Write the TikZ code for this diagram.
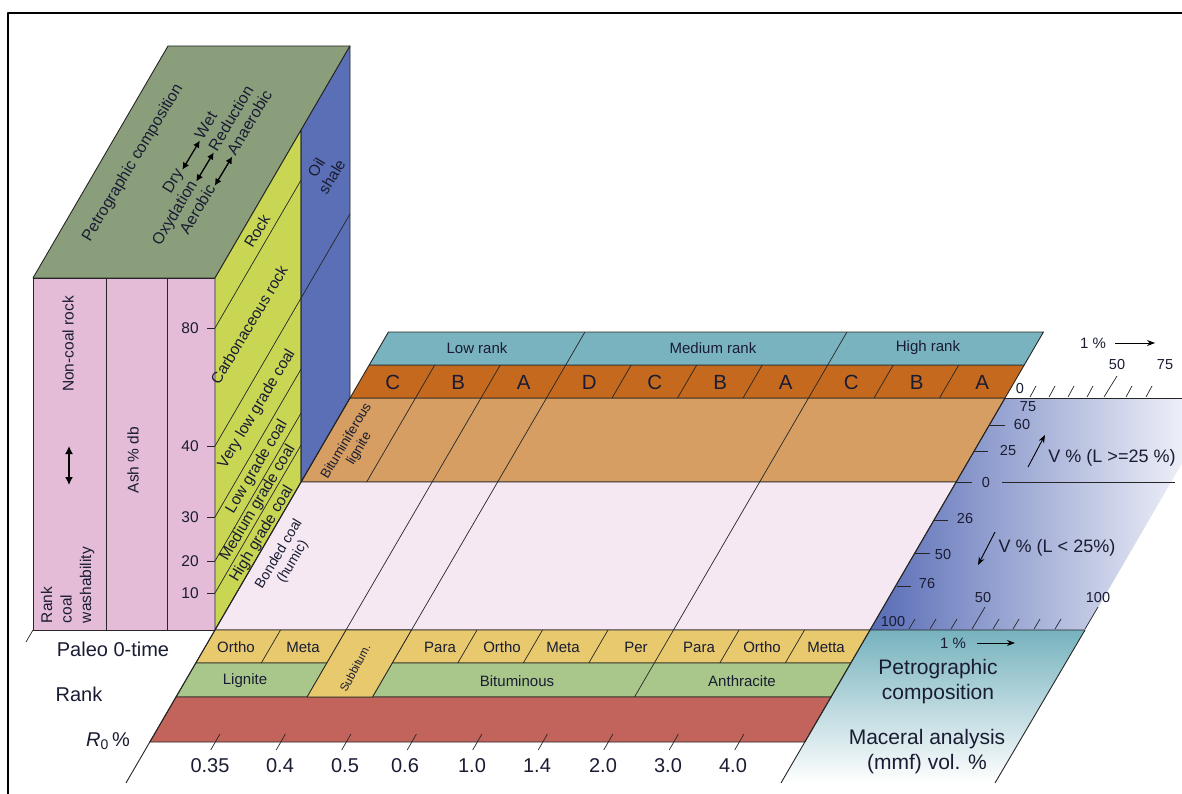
\documentclass[tikz,border=0pt]{standalone}
\usepackage{fontspec}
\setmainfont{Liberation Sans}
\usetikzlibrary{arrows.meta,calc}
\definecolor{gtop}{RGB}{139,158,124}
\definecolor{bface}{RGB}{90,111,182}
\definecolor{yface}{RGB}{201,214,84}
\definecolor{pface}{RGB}{228,188,215}
\definecolor{pfloor}{RGB}{245,232,243}
\definecolor{ofloor}{RGB}{214,158,98}
\definecolor{ostrip}{RGB}{196,105,29}
\definecolor{tstrip}{RGB}{121,179,191}
\definecolor{rowy}{RGB}{232,201,110}
\definecolor{rowg}{RGB}{169,199,138}
\definecolor{rowr}{RGB}{195,100,92}
\definecolor{bgrad}{RGB}{88,108,182}
\definecolor{tgrad}{RGB}{118,178,190}
\definecolor{txt}{RGB}{25,28,50}
\newcommand{\fsz}[2]{\fontsize{#1}{#2}\selectfont}
\tikzset{
  edge/.style={draw=black!85, line width=0.9pt},
  thinl/.style={draw=black!85, line width=0.7pt},
  rot/.style={rotate=59},
  dbl/.style={{Latex[length=7pt,width=7pt]}-{Latex[length=7pt,width=7pt]}, line width=1.3pt, draw=black},
  arr/.style={-{Stealth[length=8pt,width=6pt]}, line width=0.9pt, draw=black},
}
\begin{document}
\begin{tikzpicture}[x=1pt,y=-1pt,line join=round,
  every node/.style={inner sep=0pt, outer sep=0pt, text=txt}]
\useasboundingbox (0,0) rectangle (1182,794);
\foreach \yy in {332,365,398,482,630,663,697,742,783}{
  \foreach \k in {0,...,10}{
    \coordinate (g\yy-\k) at ({215+65.5*\k+0.582*(630-\yy)},\yy);
  }
}
% frame
\draw[line width=1.6pt] (8,794) -- (8,13) -- (1182,13);
% box
\filldraw[fill=gtop, edge] (33,278) -- (215,278) -- (350,46) -- (168,46) -- cycle;
\filldraw[fill=pface, edge] (33,278) rectangle (215,630);
\draw[edge] (106,278) -- (106,630) (167,278) -- (167,630);
\filldraw[fill=yface, edge] (215,630) -- (215,278) -- (301.1,130) -- (301.1,482) -- cycle;
\filldraw[fill=bface, edge] (301.1,130) -- (350,46) -- (350,398) -- (301.1,482) -- cycle;
\foreach \yy in {328,446,517,561,593} \draw[thinl] (215,\yy) -- (301.1,{\yy-148});
\draw[thinl] (301.1,298) -- (350,214);
% blue scale region
\begin{scope}
\clip (0,0) rectangle (1182,794);
\shade[left color=bgrad, right color=white] (g398-10) -- (1220,398) -- (1085,630) -- (g630-10) -- cycle;
\end{scope}
% teal bottom region
\shade[top color=tgrad, bottom color=white] (g630-10) -- (1085,630) -- (995,783) -- (g783-10) -- cycle;
\draw[edge] (g630-10) -- (1085,630) -- (995,783);
% floor
\filldraw[fill=ofloor, edge] (g398-0) -- (g398-10) -- (g482-10) -- (g482-0) -- cycle;
\filldraw[fill=pfloor, edge] (g482-0) -- (g482-10) -- (g630-10) -- (g630-0) -- cycle;
% back strips
\filldraw[fill=ostrip, edge] (g398-0) -- (g398-10) -- (g365-10) -- (g365-0) -- cycle;
\filldraw[fill=tstrip, edge] (g365-0) -- (g365-10) -- (g332-10) -- (g332-0) -- cycle;
\foreach \k in {1,...,9} \draw[thinl] (g398-\k) -- (g365-\k);
\draw[thinl] (g365-3) -- (g332-3) (g365-7) -- (g332-7);
% front rows
\filldraw[fill=rowy, edge] (g630-0) -- (g630-10) -- (g663-10) -- (g663-0) -- cycle;
\filldraw[fill=rowg, edge] (g663-0) -- (g663-10) -- (g697-10) -- (g697-0) -- cycle;
\filldraw[fill=rowr, edge] (g697-0) -- (g697-10) -- (g742-10) -- (g742-0) -- cycle;
\filldraw[fill=rowy, edge] (g630-2) -- (g630-3) -- (g697-3) -- (g697-2) -- cycle;
% grid lines
\draw[thinl] (g398-1) -- (g482-1);
\draw[thinl] (g398-2) -- (g630-2) (g398-3) -- (g630-3) (g398-7) -- (g697-7);
\foreach \k in {1,4,5,6,8,9} \draw[thinl] (g630-\k) -- (g663-\k);
\draw[edge] (g398-0) -- (g783-0);
\draw[edge] (g398-10) -- (g783-10);
\draw[thinl] (33,630) -- (26,642);
% scale lines
\draw[edge] (g398-10) -- (1182,398);
\draw[edge] (g482-10) -- (972,482) (1002,482) -- (1175,482);
\foreach \x in {1030,1049,1068,1087,1126,1146} \draw[thinl] (\x,397) -- ({\x+6},386);
\draw[thinl] (1104,397) -- (1117,376);
\foreach \x in {909,930,951,993,1013,1034,1055} \draw[thinl] (\x,629) -- ({\x+6},619);
\draw[thinl] (972,629) -- (985,607);
\draw[thinl] (1085,629) -- (1098,607);
\foreach \a/\b/\yy in {989/1005/425, 973/988/451, 933/948/520, 915/930/553, 897/911/586}
  \draw[thinl] (\a,\yy) -- (\b,\yy);
% red row ticks
\foreach \k in {1,...,9} \draw[thinl] ($(g742-\k)+(4.6,-8)$) -- ($(g742-\k)+(-4.6,8)$);
% ---------------- texts ----------------
\node[rotate=90, font=\fsz{15.5}{18}] (ncr) at (68,344) {Non-coal rock};
\node[rotate=90, font=\fsz{15.5}{18}] (ash) at (133,460) {Ash \% db};
\node[rotate=90, anchor=north west, align=left, font=\fsz{15.5}{19.5}] (rcw) at (41,623) {Rank\\coal\\washability};
\draw[{Latex[length=8pt,width=8pt]}-{Latex[length=8pt,width=8pt]}, line width=1.4pt] (69,446) -- (69,485);
\foreach \v/\yy in {80/328,40/446,30/517,20/561,10/593}{
  \node[font=\fsz{15.5}{18}] (n\v) at (190,\yy) {\v};
  \draw[edge] (207,\yy) -- (215,\yy);
}
% yellow face
\node[rot, font=\fsz{15.5}{18}] (rock) at (257,231) {Rock};
\node[rot, font=\fsz{15.5}{18}] (carb) at (249,325) {Carbonaceous rock};
\node[rot, font=\fsz{15.5}{18}] (vlg) at (257,409) {Very low grade coal};
\node[rot, font=\fsz{15.5}{18}] (lg) at (257,467) {Low grade coal};
\node[rot, font=\fsz{15.5}{18}] (mg) at (258,503) {Medium grade coal};
\node[rot, font=\fsz{15.5}{18}] (hg) at (262,534) {High grade coal};
% green top
\node[rot, font=\fsz{16}{18}] (petro) at (133,163) {Petrographic composition};
\begin{scope}[shift={(205,167)}, rotate=59]
\foreach \i/\dx/\dy/\La/\Lb in {1/3/-18/Dry/Wet, 2/0/0/Oxydation/Reduction, 3/6/18/Aerobic/Anaerobic}{
  \node[rotate=59, anchor=mid east, font=\fsz{16}{18}] (la\i) at ({\dx-19},\dy) {\La};
  \node[rotate=59, anchor=mid west, font=\fsz{16}{18}] (lb\i) at ({\dx+19},\dy) {\Lb};
  \draw[dbl] ({\dx-17},\dy) -- ({\dx+17},\dy);
}
\end{scope}
% blue face
\node[rot, align=center, font=\fsz{15.5}{18}] (oil) at (324,172) {Oil\\shale};
% floor
\node[rot, align=center, font=\fsz{13.5}{15}] (bitl) at (353,445) {Bituminiferous\\lignite};
\node[rot, align=center, font=\fsz{14}{16}] (bond) at (286,558) {Bonded coal\\(humic)};
% back strips
\node[font=\fsz{15}{18}] (lr) at (477,348) {Low rank};
\node[font=\fsz{15}{18}] (mr) at (713,348) {Medium rank};
\node[font=\fsz{15}{18}] (hr) at (928,348) {High rank};
\foreach \k/\L in {0/C,1/B,2/A,3/D,4/C,5/B,6/A,7/C,8/B,9/A}
  \node[font=\fsz{20.5}{22}] (cl\k) at ({392.75+65.5*\k},382) {\L};
% front rows
\foreach \x/\T [count=\i] in {236/Ortho,303/Meta,440/Para,502/Ortho,563/Meta,636/Per,699/Para,762/Ortho,826/Metta}
  \node[font=\fsz{15}{18}] (pa\i) at (\x,647) {\T};
\node[font=\fsz{15}{18}] (lig) at (245,681) {Lignite};
\node[font=\fsz{15}{18}] (bit) at (517,681) {Bituminous};
\node[font=\fsz{15}{18}] (ant) at (742,681) {Anthracite};
\node[rotate=62, font=\fsz{11.5}{13}] (sub) at (355,668) {Subbitum.};
\node[font=\fsz{20}{22}] (paleo) at (113,649) {Paleo 0-time};
\node[font=\fsz{20}{22}] (rank) at (79,694) {Rank};
\node[font=\fsz{20}{22}] (r0) at (108,741) {{\itshape R}\textsubscript{0}\,\%};
\foreach \x/\T [count=\i] in {210/0.35,280/0.4,345/0.5,405/0.6,472/1.0,537/1.4,603/2.0,668/3.0,733/4.0}
  \node[font=\fsz{20}{22}] (ro\i) at (\x,766) {\T};
% scale texts
\node[font=\fsz{14.5}{16}] (s0a) at (1020,389) {0};
\node[font=\fsz{14.5}{16}] (s50a) at (1117,365) {50};
\node[font=\fsz{14.5}{16}] (s75a) at (1165,365) {75};
\node[font=\fsz{15}{16}] (p1a) at (1093,343) {1 \%};
\draw[arr] (1115,343) -- (1155,343);
\node[font=\fsz{14.5}{16}] (v75) at (1028,407) {75};
\node[font=\fsz{14.5}{16}] (v60) at (1022,425) {60};
\node[font=\fsz{14.5}{16}] (v25) at (1008,451) {25};
\node[font=\fsz{14.5}{16}] (v0) at (986,483) {0};
\node[font=\fsz{14.5}{16}] (v26) at (965,519) {26};
\node[font=\fsz{14.5}{16}] (v50) at (943,555) {50};
\node[font=\fsz{14.5}{16}] (v76) at (927,584) {76};
\node[font=\fsz{14.5}{16}] (v100) at (893,622) {100};
\node[font=\fsz{14.5}{16}] (h50) at (983,598) {50};
\node[font=\fsz{14.5}{16}] (h100) at (1098,598) {100};
\node[font=\fsz{15}{16}] (p1b) at (953,643) {1 \%};
\draw[arr] (977,643) -- (1015,643);
\draw[arr] (1028,467) -- (1045,435);
\node[font=\fsz{18}{20}] (vup) at (1112,458) {V \% (L >=25 \%)};
\draw[arr] (995,532) -- (978,565);
\node[font=\fsz{18}{20}] (vdn) at (1057,548) {V \% (L < 25\%)};
\node[align=center, font=\fsz{21}{25}] (pcomp) at (938,682) {Petrographic\\composition};
\node[align=center, font=\fsz{21}{25}] (mac) at (927,752) {Maceral analysis\\(mmf) vol. \%};
\end{tikzpicture}
\end{document}
